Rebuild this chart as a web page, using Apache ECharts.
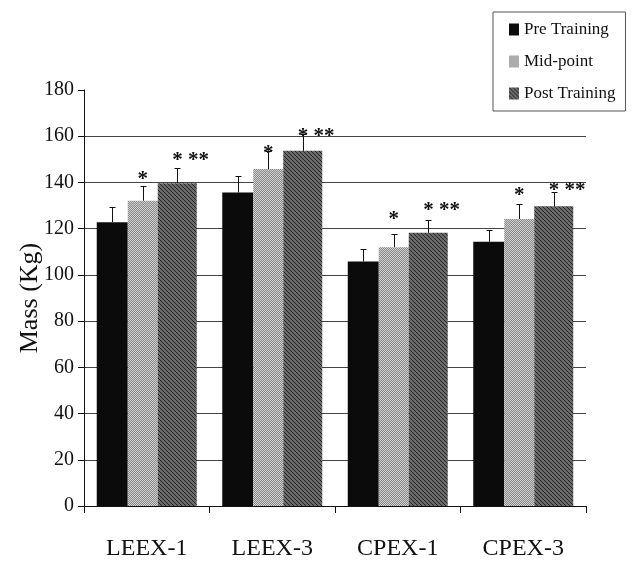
<!DOCTYPE html>
<html><head><meta charset="utf-8">
<script src="https://cdn.jsdelivr.net/npm/echarts@6/dist/echarts.min.js"></script>
<style>html,body{margin:0;padding:0;background:#fff}#c{width:634px;height:561px}</style>
</head><body><div id="c"></div>
<script>
// ---- data ----
const categories = ['LEEX-1', 'LEEX-3', 'CPEX-1', 'CPEX-3'];
const seriesNames = ['Pre Training', 'Mid-point', 'Post Training'];
const preValues  = [122.8, 135.7, 105.8, 114.3];
const midValues  = [132.1, 145.8, 112.0, 124.2];
const postValues = [139.7, 153.7, 118.2, 129.7];
const preErrors  = [6.4, 6.9, 5.2, 5.3];
const midErrors  = [6.5, 7.6, 5.5, 6.5];
const postErrors = [6.6, 7.2, 5.7, 6.2];
const midStars  = ['*', '*', '*', '*'];
const postStars = ['* **', '* **', '* **', '* **'];
const midStarLevels  = [143.8, 155.0, 126.4, 136.5];
const postStarLevels = [151.9, 162.4, 130.4, 139.0];
const yTicks = [0, 20, 40, 60, 80, 100, 120, 140, 160, 180];

// ---- styles ----
const FONT = 'Liberation Serif';
const barWidths = [31, 30, 39];
const offsets = (function () {
  const total = barWidths.reduce((a, b) => a + b, 0);
  let x = -total / 2; const res = [];
  barWidths.forEach(w => { res.push(x + w / 2); x += w; });
  return res;
})();

function makePattern(size, draw) {
  const cv = document.createElement('canvas');
  cv.width = size; cv.height = size;
  const ctx = cv.getContext('2d');
  draw(ctx);
  return { image: cv, repeat: 'repeat' };
}
const preFill = '#0b0b0b';
const midFill = makePattern(2, ctx => {
  ctx.fillStyle = '#d0d0d0'; ctx.fillRect(0, 0, 2, 2);
  ctx.fillStyle = '#888888'; ctx.fillRect(1, 0, 1, 1); ctx.fillRect(0, 1, 1, 1);
});
const postFill = makePattern(4, ctx => {
  ctx.fillStyle = '#6a6a6a'; ctx.fillRect(0, 0, 4, 4);
  ctx.fillStyle = '#222222';
  for (let i = 0; i < 4; i++) ctx.fillRect(i, i, 1, 1);
});

function errRender(offset) {
  return function (params, api) {
    const base = api.coord([api.value(0), api.value(1)]);
    const top = api.coord([api.value(0), api.value(2)]);
    const x = Math.round(base[0] + offset) + 0.5;
    const yt = Math.round(top[1]) + 0.5;
    return { type: 'group', children: [
      { type: 'line', shape: { x1: x, y1: base[1], x2: x, y2: yt }, style: { stroke: '#111', lineWidth: 1 } },
      { type: 'line', shape: { x1: x - 3, y1: yt, x2: x + 3, y2: yt }, style: { stroke: '#111', lineWidth: 1 } }
    ] };
  };
}
function starRender(offset, texts, shift, align) {
  return function (params, api) {
    const p = api.coord([api.value(0), api.value(1)]);
    return { type: 'text', x: p[0] + offset + shift, y: p[1] + 5.5,
      style: { text: texts[params.dataIndex], fill: '#111', font: 'bold 21px "' + FONT + '"',
        align: align, verticalAlign: 'middle' } };
  };
}

const valueSets = [preValues, midValues, postValues];
const errorSets = [preErrors, midErrors, postErrors];
const fills = [preFill, midFill, postFill];

const series = [];
seriesNames.forEach((name, s) => {
  series.push({ name: name, type: 'bar', data: valueSets[s], barWidth: barWidths[s], barGap: '0%',
    itemStyle: { color: fills[s] } });
});
seriesNames.forEach((name, s) => {
  series.push({ name: 'err-' + s, type: 'custom', z: 5,
    data: categories.map((c, i) => [i, valueSets[s][i], valueSets[s][i] + errorSets[s][i]]),
    renderItem: errRender(offsets[s]) });
});
series.push({ name: 'stars-mid', type: 'custom', z: 6,
  data: categories.map((c, i) => [i, midStarLevels[i]]),
  renderItem: starRender(offsets[1], midStars, 0, 'center') });
series.push({ name: 'stars-post', type: 'custom', z: 6,
  data: categories.map((c, i) => [i, postStarLevels[i]]),
  renderItem: starRender(offsets[2], postStars, -5, 'left') });

const chart = echarts.init(document.getElementById('c'), null, { renderer: 'canvas' });
chart.setOption({
  animation: false,
  backgroundColor: '#fff',
  grid: { left: 84, right: 48, top: 90, bottom: 53.5 },
  legend: {
    orient: 'vertical', left: 493, top: 12, data: seriesNames, icon: 'rect',
    itemWidth: 10, itemHeight: 12, itemGap: 15, padding: [9, 10, 9, 16],
    borderColor: '#555', borderWidth: 1, backgroundColor: '#fff',
    textStyle: { fontFamily: FONT, fontSize: 17, color: '#111', lineHeight: 17 }
  },
  xAxis: {
    type: 'category', data: categories, boundaryGap: true,
    axisLine: { lineStyle: { color: '#111', width: 1 } },
    axisTick: { show: true, length: 7, alignWithLabel: false, lineStyle: { color: '#111' } },
    axisLabel: { fontFamily: FONT, fontSize: 24, color: '#111', margin: 31 }
  },
  yAxis: {
    type: 'value', min: yTicks[0], max: yTicks[yTicks.length - 1], interval: yTicks[1] - yTicks[0],
    name: 'Mass (Kg)', nameLocation: 'middle', nameGap: 41, nameRotate: 90, nameMoveOverlap: false,
    nameTextStyle: { fontFamily: FONT, fontSize: 26, color: '#111' },
    axisLine: { show: true, lineStyle: { color: '#111', width: 1 } },
    axisTick: { show: true, length: 6, lineStyle: { color: '#111' } },
    axisLabel: { fontFamily: FONT, fontSize: 20, color: '#111', margin: 10 },
    splitLine: { show: true, showMaxLine: false, lineStyle: { color: '#444', width: 1 } }
  },
  series: series
});
</script>
</body></html>
